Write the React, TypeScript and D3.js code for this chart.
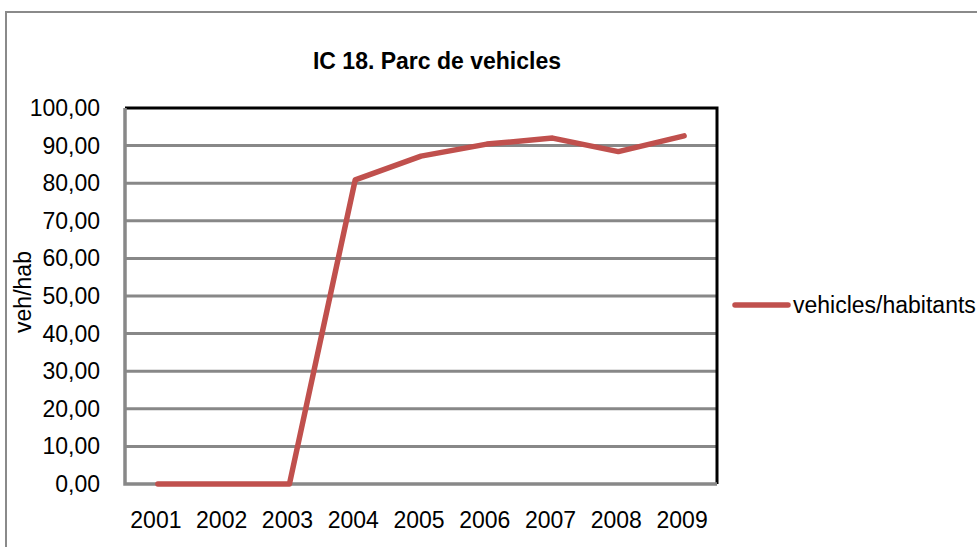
import * as d3 from "d3";
import { useEffect, useRef } from "react";

const years = ["2001", "2002", "2003", "2004", "2005", "2006", "2007", "2008", "2009"];
const vehPerHab = [0, 0, 0, 80.9, 87.2, 90.4, 92.0, 88.4, 92.6];
const yTicks = [0, 10, 20, 30, 40, 50, 60, 70, 80, 90, 100];

const W = 977, H = 547;
const plot = { left: 125, right: 717, top: 108, bottom: 484 };

const App = () => {
  const ref = useRef<SVGSVGElement>(null);

  useEffect(() => {
    const svg = d3.select(ref.current);
    svg.selectAll("*").remove();

    const x = d3.scaleBand().domain(years).range([plot.left, plot.right]);
    const y = d3.scaleLinear().domain([0, 100]).range([plot.bottom, plot.top]);

    // chart area border
    svg.append("rect")
      .attr("x", 6).attr("y", 12)
      .attr("width", W + 20).attr("height", H + 20)
      .attr("fill", "white")
      .attr("stroke", "#8a8a8a")
      .attr("stroke-width", 2);

    // title
    svg.append("text")
      .attr("x", 437).attr("y", 69)
      .attr("text-anchor", "middle")
      .attr("font-family", "Arial, 'Liberation Sans', sans-serif")
      .attr("font-weight", "bold")
      .attr("font-size", 23)
      .attr("fill", "#000")
      .text("IC 18. Parc de vehicles");

    // gridlines
    svg.append("g").selectAll("line")
      .data(yTicks.filter(d => d > 0 && d < 100))
      .join("line")
      .attr("x1", plot.left).attr("x2", plot.right)
      .attr("y1", d => y(d)).attr("y2", d => y(d))
      .attr("stroke", "#888888")
      .attr("stroke-width", 3);

    // plot frame: top/right black
    svg.append("path")
      .attr("d", `M${plot.left},${y(100)}H${plot.right}V${plot.bottom}`)
      .attr("fill", "none")
      .attr("stroke", "#000")
      .attr("stroke-width", 3);

    // axes lines (gray)
    svg.append("path")
      .attr("d", `M${plot.left},${y(100)}V${plot.bottom}H${plot.right}`)
      .attr("fill", "none")
      .attr("stroke", "#888888")
      .attr("stroke-width", 3.5);

    // y tick labels
    svg.append("g").selectAll("text")
      .data(yTicks)
      .join("text")
      .attr("x", 100)
      .attr("y", d => y(d) + 8)
      .attr("text-anchor", "end")
      .attr("font-family", "Arial, 'Liberation Sans', sans-serif")
      .attr("font-size", 23)
      .attr("fill", "#000")
      .text(d => d3.format(".2f")(d).replace(".", ","));

    // x tick labels
    svg.append("g").selectAll("text")
      .data(years)
      .join("text")
      .attr("x", d => x(d)! + x.bandwidth() / 2 - 2)
      .attr("y", 528)
      .attr("text-anchor", "middle")
      .attr("font-family", "Arial, 'Liberation Sans', sans-serif")
      .attr("font-size", 23)
      .attr("fill", "#000")
      .text(d => d);

    // y axis title
    svg.append("text")
      .attr("transform", `translate(31,${292}) rotate(-90)`)
      .attr("text-anchor", "middle")
      .attr("font-family", "Arial, 'Liberation Sans', sans-serif")
      .attr("font-size", 23)
      .attr("fill", "#000")
      .text("veh/hab");

    // series line
    const line = d3.line<number>()
      .x((_, i) => x(years[i])! + x.bandwidth() / 2)
      .y(d => y(d));

    svg.append("path")
      .datum(vehPerHab)
      .attr("d", line)
      .attr("fill", "none")
      .attr("stroke", "#C0504D")
      .attr("stroke-width", 5.5)
      .attr("stroke-linejoin", "round")
      .attr("stroke-linecap", "round");

    // legend
    svg.append("line")
      .attr("x1", 735).attr("x2", 788)
      .attr("y1", 305).attr("y2", 305)
      .attr("stroke", "#C0504D")
      .attr("stroke-width", 5.5)
      .attr("stroke-linecap", "round");

    svg.append("text")
      .attr("x", 793).attr("y", 313)
      .attr("font-family", "Arial, 'Liberation Sans', sans-serif")
      .attr("font-size", 23)
      .attr("fill", "#000")
      .text("vehicles/habitants");
  }, []);

  return (
    <svg
      ref={ref}
      width={W}
      height={H}
      style={{ position: "absolute", left: 0, top: 0, display: "block", background: "white" }}
    />
  );
};

export default App;
